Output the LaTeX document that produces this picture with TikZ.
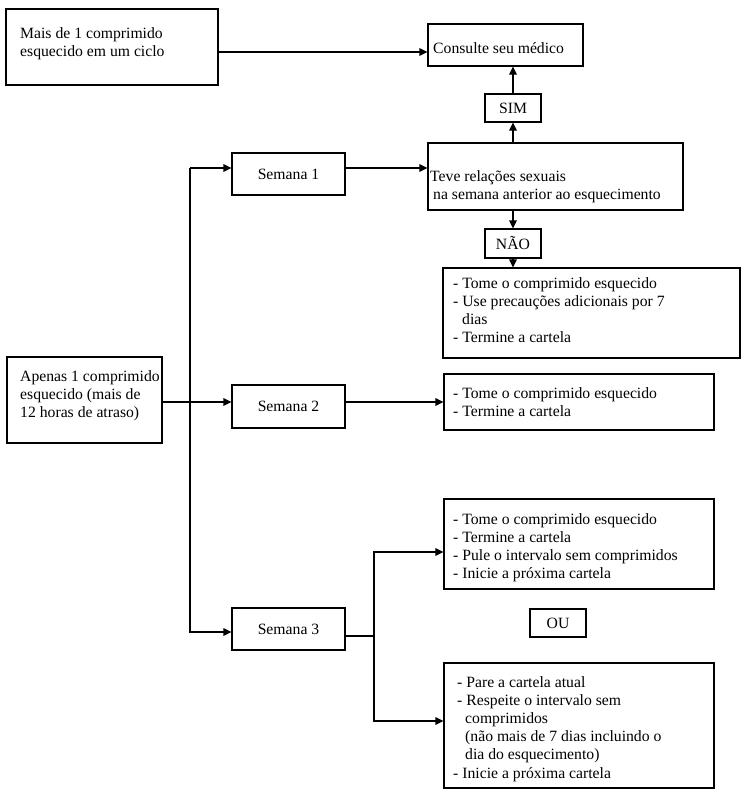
\documentclass[tikz,border=0pt]{standalone}
\usepackage{fontspec}
\setmainfont{Liberation Serif}
\usetikzlibrary{arrows.meta,calc}
\begin{document}
\begin{tikzpicture}[x=1pt,y=-1pt,
  every node/.style={font=\fontsize{15.7}{18.2}\selectfont},
  box/.style={draw, line width=1.1pt, rectangle, inner sep=0pt},
  txt/.style={inner sep=0pt, anchor=north west, align=left},
  arr/.style={line width=1.1pt, -{Triangle[length=8pt,width=7.5pt]}},
  ln/.style={line width=1.1pt}]
\useasboundingbox (0,0) rectangle (750,795);
% boxes
\node[box, minimum width=212pt, minimum height=76pt] (a) at (112,47) {};
\node[box, minimum width=155pt, minimum height=42pt] (cons) at (505.5,45) {};
\node[box, minimum width=56pt, minimum height=28pt] (sim) at (513,108) {SIM};
\node[box, minimum width=113pt, minimum height=42pt] (s1) at (288.5,174) {Semana 1};
\node[box, minimum width=255pt, minimum height=67pt] (teve) at (555.5,176.5) {};
\node[box, minimum width=56pt, minimum height=29pt] (nao) at (513,243.5) {NÃO};
\node[box, minimum width=297pt, minimum height=90pt] (bn) at (591.5,313) {};
\node[box, minimum width=155pt, minimum height=86pt] (ap) at (84.5,400) {};
\node[box, minimum width=113pt, minimum height=43pt] (s2) at (288.5,406.5) {Semana 2};
\node[box, minimum width=270pt, minimum height=56pt] (b2) at (579,402) {};
\node[box, minimum width=270pt, minimum height=90pt] (b3a) at (579,544) {};
\node[box, minimum width=56pt, minimum height=28pt] (ou) at (558,623) {OU};
\node[box, minimum width=113pt, minimum height=42pt] (s3) at (288.5,629) {Semana 3};
\node[box, minimum width=270pt, minimum height=125pt] (b3b) at (579,725.5) {};
% texts
\node[txt] (ta) at (20,27) {Mais de 1 comprimido\\esquecido em um ciclo};
\node[txt] (tcons) at (433,42) {Consulte seu médico};
\node[txt] (tteve) at (430,170) {Teve relações sexuais\\\hspace*{3pt}na semana anterior ao esquecimento};
\node[txt] (tbn) at (453,277) {- Tome o comprimido esquecido\\- Use precauções adicionais por 7\\\hspace*{9pt}dias\\- Termine a cartela};
\node[txt] (tap) at (20,370) {Apenas 1 comprimido\\esquecido (mais de\\12 horas de atraso)};
\node[txt] (tb2) at (453,387) {- Tome o comprimido esquecido\\- Termine a cartela};
\node[txt] (tb3a) at (453,513) {- Tome o comprimido esquecido\\- Termine a cartela\\- Pule o intervalo sem comprimidos\\- Inicie a próxima cartela};
\node[txt] (tb3b) at (453,676) {\hspace*{4pt}- Pare a cartela atual\\\hspace*{4pt}- Respeite o intervalo sem\\\hspace*{12pt}comprimidos\\\hspace*{12pt}(não mais de 7 dias incluindo o\\\hspace*{12pt}dia do esquecimento)\\- Inicie a próxima cartela};
% connector coordinates
\coordinate (ya) at (0,52);
\coordinate (y1) at (0,168);
\coordinate (y2) at (0,402);
\coordinate (t1) at (190,168);
\coordinate (t3) at (190,632);
\coordinate (y3) at (0,636);
\coordinate (u1) at (374,552);
\coordinate (u3) at (374,721);
% connectors
\draw[arr] (a.east |- ya) -- (cons.west |- ya);
\draw[arr] (sim.south |- teve.north) -- (sim.south);
\draw[arr] (sim.north) -- (sim.north |- cons.south);
\draw[arr] (nao.north |- teve.south) -- (nao.north);
\draw[arr] (nao.south) -- (nao.south |- bn.north);
\draw[arr] (s1.east |- y1) -- (teve.west |- y1);
\draw[arr] (t1) -- (t1 -| s1.west);
\draw[arr] (t1) -- (t3) -- (t3 -| s3.west);
\draw[arr] (ap.east |- y2) -- (s2.west |- y2);
\draw[arr] (s2.east |- y2) -- (b2.west |- y2);
\draw[ln] (s3.east |- y3) -- (u1 |- y3);
\draw[arr] (u1 |- y3) -- (u1) -- (u1 -| b3a.west);
\draw[arr] (u1 |- y3) -- (u3) -- (u3 -| b3b.west);
\end{tikzpicture}
\end{document}
